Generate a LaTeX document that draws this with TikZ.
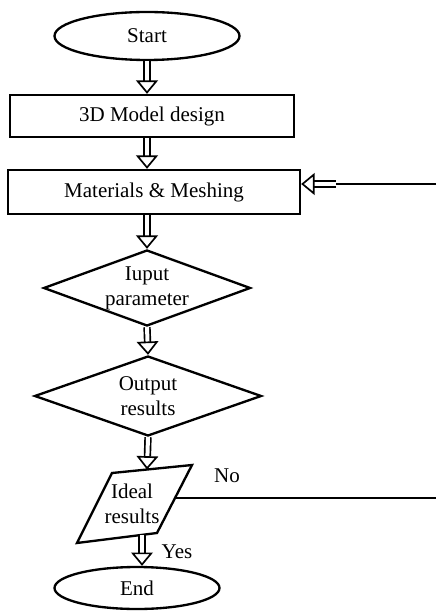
\documentclass[tikz,border=0pt]{standalone}
\usepackage{fontspec}
\setmainfont{Liberation Serif}
\usetikzlibrary{arrows.meta,shapes.geometric,calc}

\begin{document}
\begin{tikzpicture}[x=0.6pt,y=-0.6pt,
  every node/.style={font=\fontsize{12.6}{15}\selectfont},
  box node/.style={draw,line width=1.4pt,rectangle,inner sep=0pt},
  end node/.style={draw,line width=1.4pt,ellipse,inner sep=0pt},
  test node/.style={draw,line width=1.4pt,diamond,aspect=2.7,inner sep=0pt,align=center},
  hollow/.style={double,line width=1pt,double distance=2.4pt,
    -{Triangle[open,length=8pt,width=13pt,line width=1pt]}},
  wire/.style={line width=1.1pt}]
  \useasboundingbox (0,0) rectangle (436,611);
  \node[end node,minimum width=111pt,minimum height=28.8pt] (start) at (147,36)  {Start};
  \node[box node,minimum width=170.4pt,minimum height=25.2pt] (model) at (152,116) {3D Model design};
  \node[box node,minimum width=175.2pt,minimum height=26.4pt] (mesh)  at (154,192) {Materials \& Meshing};
  \node[test node,minimum width=124.2pt,minimum height=45.6pt] (input)  at (147,288) {Iuput\\parameter};
  \node[test node,minimum width=136.2pt,minimum height=48pt]   (output) at (148,396) {Output\\results};
  \node[align=center,inner sep=0pt] (ideal) at (132,504) {Ideal\\results};
  \node[end node,minimum width=99pt,minimum height=25.2pt]   (end)   at (137,588) {End};
  \node (yes) at (177,552) {Yes};
  \node (no)  at (227,476) {No};
  % parallelogram round the ideal node
  \coordinate (pa) at (112,473);
  \coordinate (pb) at (192,465);
  \coordinate (pc) at (157,533);
  \coordinate (pd) at (77,543);
  \draw[line width=1.4pt,line join=miter] (pa) -- (pb) -- (pc) -- (pd) -- cycle;
  \coordinate (ptop) at ($(pa)!0.4375!(pb)$);
  \coordinate (pbot) at ($(pd)!0.8125!(pc)$);
  \coordinate (pright) at ($(pb)!0.485!(pc)$);
  \coordinate (fbin) at (336,184);
  \coordinate (fbout) at (436,184);
  \coordinate (noout) at (436,498);
  \path
    (start.south) edge [hollow] (start.south |- model.north)
    (model.south -| start) edge [hollow] (mesh.north -| start)
    (mesh.south -| input) edge [hollow] (input.north)
    (input.south) edge [hollow] (output.north)
    (output.south) edge [hollow] (ptop)
    (pbot) edge [hollow] (pbot |- end.north)
    (fbin) edge [hollow] (mesh.east |- fbin);
  \draw[wire] (fbout) -- (fbin);
  \draw[wire] (pright) -- (pright -| noout);
\end{tikzpicture}
\end{document}
